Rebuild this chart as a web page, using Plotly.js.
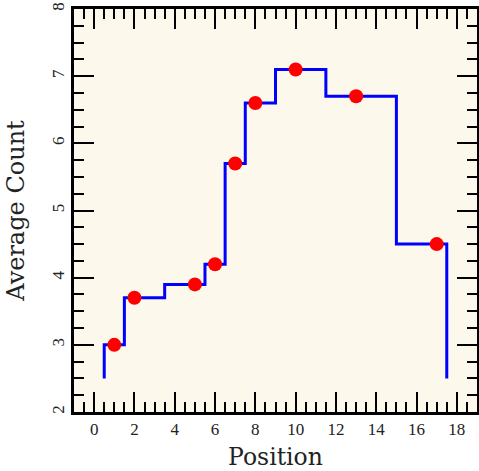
<!DOCTYPE html>
<html><head><meta charset="utf-8">
<script src="https://cdn.plot.ly/plotly-3.0.1.min.js"></script>
<style>html,body{margin:0;padding:0;background:#fff}</style>
</head><body>
<div id="chart" style="width:479px;height:471px"></div>
<script>
var positions = [1, 2, 5, 6, 7, 8, 10, 13, 17];
var avgCounts = [3.0, 3.7, 3.9, 4.2, 5.7, 6.6, 7.1, 6.7, 4.5];
var baseline = 2.5;
var xTickVals = [0, 2, 4, 6, 8, 10, 12, 14, 16, 18];
var yTickVals = [2, 3, 4, 5, 6, 7, 8];

// step edges: half-way between neighbouring positions
var edges = [positions[0] - 0.5];
for (var i = 0; i < positions.length - 1; i++) edges.push((positions[i] + positions[i+1]) / 2);
edges.push(positions[positions.length-1] + 0.5);
var sx = [edges[0]], sy = [baseline];
for (var i = 0; i < avgCounts.length; i++) {
  sx.push(edges[i]); sy.push(avgCounts[i]);
  sx.push(edges[i+1]); sy.push(avgCounts[i]);
}
sx.push(edges[edges.length-1]); sy.push(baseline);

var tickFont = "Liberation Serif, DejaVu Serif, serif";
var titleFont = "DejaVu Serif, Liberation Serif, serif";
var axisCommon = {
  showgrid: false, zeroline: false, showline: true, linecolor: '#000', linewidth: 3,
  mirror: 'allticks', ticks: 'inside', ticklen: 20, tickwidth: 2, tickcolor: '#000',
  tickfont: {family: tickFont, size: 17, color: '#222'},
  minor: {ticks: 'inside', ticklen: 10, tickwidth: 2, tickcolor: '#000', showgrid: false}
};
var layout = {
  width: 479, height: 471,
  margin: {l: 74, r: 2, t: 9, b: 59},
  paper_bgcolor: '#ffffff', plot_bgcolor: '#fdf8ec',
  showlegend: false,
  xaxis: Object.assign({}, axisCommon, {
    range: [-1, 19], tickvals: xTickVals, ticktext: xTickVals.map(String),
    minor: Object.assign({}, axisCommon.minor, {dtick: 0.5, tick0: 0}),
    title: {text: 'Position', font: {family: titleFont, size: 23.5, color: '#222'}, standoff: 14}
  }),
  yaxis: Object.assign({}, axisCommon, {
    range: [2, 8], tickvals: yTickVals, ticktext: yTickVals.map(String), tickangle: -90,
    minor: Object.assign({}, axisCommon.minor, {dtick: 0.25, tick0: 0}),
    title: {text: 'Average Count', font: {family: titleFont, size: 24, color: '#222'}, standoff: 18}
  })
};
var data = [
  {x: sx, y: sy, mode: 'lines', line: {color: '#0000ff', width: 3}, hoverinfo: 'skip'},
  {x: positions, y: avgCounts, mode: 'markers', marker: {color: '#ff0000', size: 14}}
];
Plotly.newPlot('chart', data, layout, {staticPlot: true});
</script>
</body></html>
